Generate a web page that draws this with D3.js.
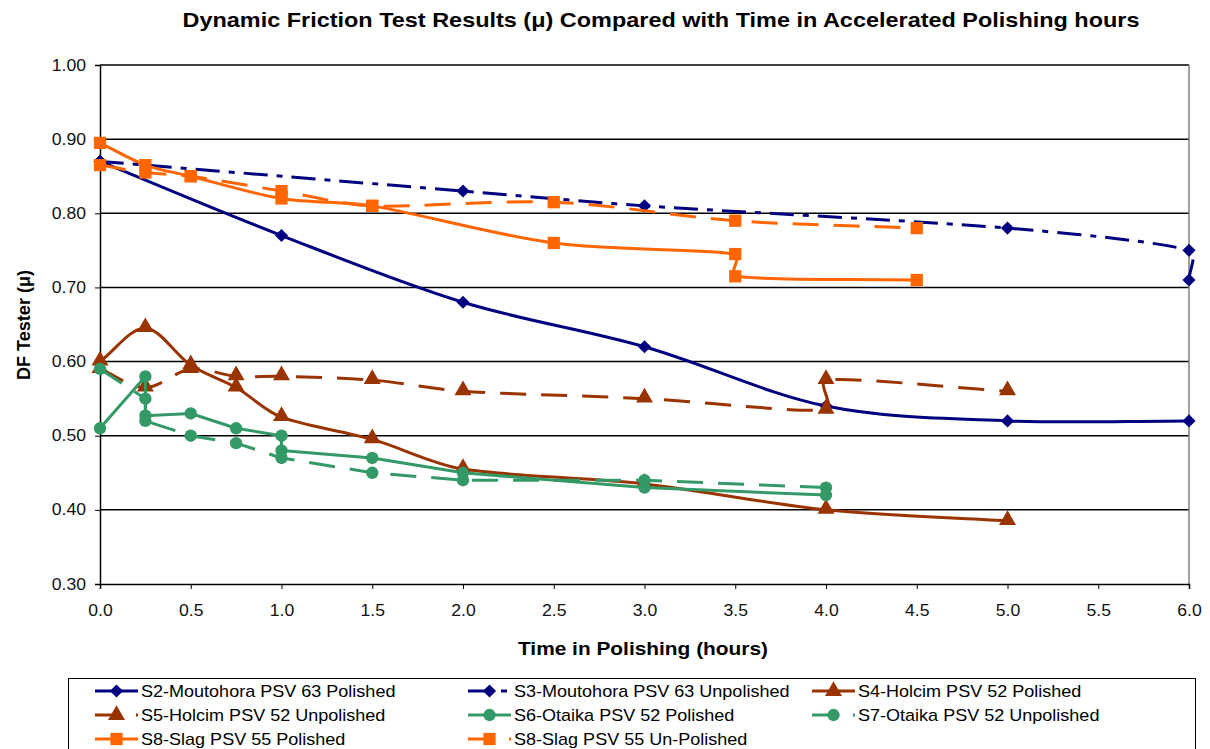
<!DOCTYPE html>
<html>
<head>
<meta charset="utf-8">
<script src="https://cdn.jsdelivr.net/npm/d3@7"></script>
<style>
  html, body { margin: 0; padding: 0; background: #fff; }
  svg { display: block; font-family: "Liberation Sans", Arial, sans-serif; }
</style>
</head>
<body>
<svg id="chart" width="1210" height="749"></svg>
<script>
// ---------------- DATA ----------------
const title = "Dynamic Friction Test Results (\u03bc) Compared with Time in Accelerated Polishing hours";
const xTitle = "Time in Polishing (hours)";
const yTitle = "DF Tester (\u03bc)";
const xTicks = [0, 0.5, 1, 1.5, 2, 2.5, 3, 3.5, 4, 4.5, 5, 5.5, 6];
const yTicks = [0.30, 0.40, 0.50, 0.60, 0.70, 0.80, 0.90, 1.00];

const s2Hours = [0, 1, 2, 3, 4, 5, 6];
const s2Values = [0.87, 0.77, 0.68, 0.62, 0.54, 0.52, 0.52];

const s3Hours = [0, 2, 3, 5, 6, 6];
const s3Values = [0.87, 0.83, 0.81, 0.78, 0.75, 0.71];

const s4Hours = [0, 0.25, 0.5, 0.75, 1, 1.5, 2, 3, 4, 5];
const s4Values = [0.60, 0.645, 0.595, 0.565, 0.525, 0.495, 0.455, 0.435, 0.40, 0.385];

const s5Hours = [0, 0.25, 0.5, 0.75, 1, 1.5, 2, 3, 4, 4, 5];
const s5Values = [0.59, 0.565, 0.59, 0.58, 0.58, 0.575, 0.56, 0.55, 0.535, 0.575, 0.56];

const s6Hours = [0, 0.25, 0.25, 0.5, 0.75, 1, 1, 1.5, 2, 3, 4];
const s6Values = [0.51, 0.58, 0.527, 0.53, 0.51, 0.50, 0.48, 0.47, 0.45, 0.43, 0.42];

const s7Hours = [0, 0.25, 0.25, 0.5, 0.75, 1, 1.5, 2, 3, 4];
const s7Values = [0.59, 0.55, 0.52, 0.50, 0.49, 0.47, 0.45, 0.44, 0.44, 0.43];

const s8pHours = [0, 0.25, 0.5, 1, 1.5, 2.5, 3.5, 3.5, 4.5];
const s8pValues = [0.895, 0.865, 0.85, 0.82, 0.81, 0.76, 0.745, 0.715, 0.71];

const s8uHours = [0, 0.25, 0.5, 1, 1.5, 2.5, 3.5, 4.5];
const s8uValues = [0.865, 0.855, 0.85, 0.83, 0.81, 0.815, 0.79, 0.78];

const seriesNames = [
  "S2-Moutohora PSV 63 Polished", "S3-Moutohora PSV 63 Unpolished", "S4-Holcim PSV 52 Polished",
  "S5-Holcim PSV 52 Unpolished", "S6-Otaika PSV 52 Polished", "S7-Otaika PSV 52 Unpolished",
  "S8-Slag PSV 55 Polished", "S8-Slag PSV 55 Un-Polished"
];

// ---------------- STYLE ----------------
const NAVY = "#000080", BROWN = "#993300", GREEN = "#339966", ORANGE = "#FF6600";
const DASH = "26,15", DASHDOT = "24,9,6,9";

const series = [
  {name: seriesNames[0], xs: s2Hours, ys: s2Values, color: NAVY, dash: null, marker: "diamond", smooth: true},
  {name: seriesNames[1], xs: s3Hours, ys: s3Values, color: NAVY, dash: DASHDOT, marker: "diamond", smooth: true},
  {name: seriesNames[2], xs: s4Hours, ys: s4Values, color: BROWN, dash: null, marker: "triangle", smooth: true},
  {name: seriesNames[3], xs: s5Hours, ys: s5Values, color: BROWN, dash: DASH, marker: "triangle", smooth: true},
  {name: seriesNames[4], xs: s6Hours, ys: s6Values, color: GREEN, dash: null, marker: "circle", smooth: false},
  {name: seriesNames[5], xs: s7Hours, ys: s7Values, color: GREEN, dash: DASH, marker: "circle", smooth: false},
  {name: seriesNames[6], xs: s8pHours, ys: s8pValues, color: ORANGE, dash: null, marker: "square", smooth: true},
  {name: seriesNames[7], xs: s8uHours, ys: s8uValues, color: ORANGE, dash: DASH, marker: "square", smooth: true}
];

// ---------------- LAYOUT ----------------
const svg = d3.select("#chart");
const plot = {left: 100, right: 1189, top: 65, bottom: 584};

const x = d3.scaleLinear().domain([0, 6]).range([plot.left, plot.right]);
const y = d3.scaleLinear().domain([0.3, 1.0]).range([plot.bottom, plot.top]);

function stretch(sel, factor) {
  sel.each(function () {
    const w = this.getComputedTextLength();
    d3.select(this).attr("textLength", w * factor).attr("lengthAdjust", "spacingAndGlyphs");
  });
}
function fitTo(sel, width) {
  sel.attr("textLength", width).attr("lengthAdjust", "spacingAndGlyphs");
}

// Spreadsheet-style smoothed line: Catmull-Rom tangents, limited on short segments
function smoothPath(p) {
  const path = d3.path();
  const n = p.length;
  const T = p.map((pt, i) => {
    const a = p[Math.max(i - 1, 0)], b = p[Math.min(i + 1, n - 1)];
    const k = (i === 0 || i === n - 1) ? 1 / 3 : 1 / 6;
    return [(b[0] - a[0]) * k, (b[1] - a[1]) * k];
  });
  path.moveTo(p[0][0], p[0][1]);
  for (let i = 0; i < n - 1; i++) {
    const a = p[i], b = p[i + 1];
    const len = Math.hypot(b[0] - a[0], b[1] - a[1]);
    const lim = len / 3;
    const clamp = t => {
      const m = Math.hypot(t[0], t[1]);
      return m > lim && m > 0 ? [t[0] * lim / m, t[1] * lim / m] : t;
    };
    const t1 = clamp(T[i]), t2 = clamp(T[i + 1]);
    path.bezierCurveTo(a[0] + t1[0], a[1] + t1[1], b[0] - t2[0], b[1] - t2[1], b[0], b[1]);
  }
  return path.toString();
}

// gridlines
svg.append("g").selectAll("line").data(yTicks.filter(v => v > 0.3)).join("line")
  .attr("x1", plot.left).attr("x2", plot.right)
  .attr("y1", d => y(d)).attr("y2", d => y(d))
  .attr("stroke", "#000").attr("stroke-width", 1.5);

// right border
svg.append("line").attr("x1", plot.right).attr("x2", plot.right)
  .attr("y1", plot.top).attr("y2", plot.bottom)
  .attr("stroke", "#808080").attr("stroke-width", 1.5);

// axes
const yAxis = d3.axisLeft(y).tickValues(yTicks).tickFormat(d3.format(".2f")).tickSize(5).tickPadding(9);
const gy = svg.append("g").attr("transform", `translate(${plot.left},0)`).call(yAxis);
const xAxis = d3.axisBottom(x).tickValues(xTicks).tickFormat(d3.format(".1f")).tickSize(5).tickPadding(16);
const gx = svg.append("g").attr("transform", `translate(0,${plot.bottom})`).call(xAxis);
[gx, gy].forEach(g => {
  g.select(".domain").attr("stroke", "#000").attr("stroke-width", 1.5);
  g.selectAll(".tick line").attr("stroke", "#000").attr("stroke-width", 1);
  g.selectAll(".tick text").attr("font-size", 16).attr("fill", "#111")
    .attr("font-family", "'Liberation Sans', Arial, sans-serif");
  stretch(g.selectAll(".tick text"), 1.1);
});

// titles
svg.append("text").attr("x", 661).attr("y", 27).attr("text-anchor", "middle")
  .attr("font-size", 20.5).attr("font-weight", "bold").text(title).call(fitTo, 957);
svg.append("text").attr("x", 643).attr("y", 655).attr("text-anchor", "middle")
  .attr("font-size", 19).attr("font-weight", "bold").text(xTitle).call(fitTo, 250);
svg.append("text").attr("transform", "translate(30,325) rotate(-90)").attr("text-anchor", "middle")
  .attr("font-size", 19).attr("font-weight", "bold").text(yTitle).call(fitTo, 110);

// markers
function markerPath(type) {
  const sym = {
    diamond: d3.symbol().type(d3.symbolDiamond2).size(110),
    square: d3.symbol().type(d3.symbolSquare).size(150),
    circle: d3.symbol().type(d3.symbolCircle).size(120),
    triangle: d3.symbol().type(d3.symbolTriangle).size(125)
  };
  return sym[type]();
}

const gSeries = svg.append("g");
series.forEach(s => {
  const pts = s.xs.map((h, i) => [h, s.ys[i]]);
  const px = pts.map(d => [x(d[0]), y(d[1])]);
  const d = s.smooth ? smoothPath(px) : d3.line()(px);
  const g = gSeries.append("g");
  g.append("path").attr("d", d).attr("fill", "none")
    .attr("stroke", s.color).attr("stroke-width", 3)
    .attr("stroke-linejoin", "round")
    .attr("stroke-dasharray", s.dash);
  g.selectAll("path.m").data(pts).join("path").attr("class", "m")
    .attr("d", markerPath(s.marker))
    .attr("transform", d => `translate(${x(d[0])},${y(d[1])})` + (s.marker === "triangle" ? " translate(0,-1)" : ""))
    .attr("fill", s.color);
});

// legend
const legend = svg.append("g");
legend.append("rect").attr("x", 68.5).attr("y", 678.5).attr("width", 1127).attr("height", 90)
  .attr("fill", "#fff").attr("stroke", "#000").attr("stroke-width", 1);
const colX = [95, 468, 812];
const rowY = [691, 715, 739];
series.forEach((s, i) => {
  const cx = colX[i % 3], cy = rowY[Math.floor(i / 3)];
  const g = legend.append("g");
  g.append("line").attr("x1", cx).attr("x2", cx + 43).attr("y1", cy).attr("y2", cy)
    .attr("stroke", s.color).attr("stroke-width", 3).attr("stroke-dasharray", s.dash);
  g.append("path").attr("d", markerPath(s.marker))
    .attr("transform", `translate(${cx + 21.5},${cy})`).attr("fill", s.color);
  g.append("text").attr("x", cx + 46).attr("y", cy + 6).attr("font-size", 17)
    .attr("fill", "#000").text(s.name).call(stretch, 1.06);
});
</script>
</body>
</html>
